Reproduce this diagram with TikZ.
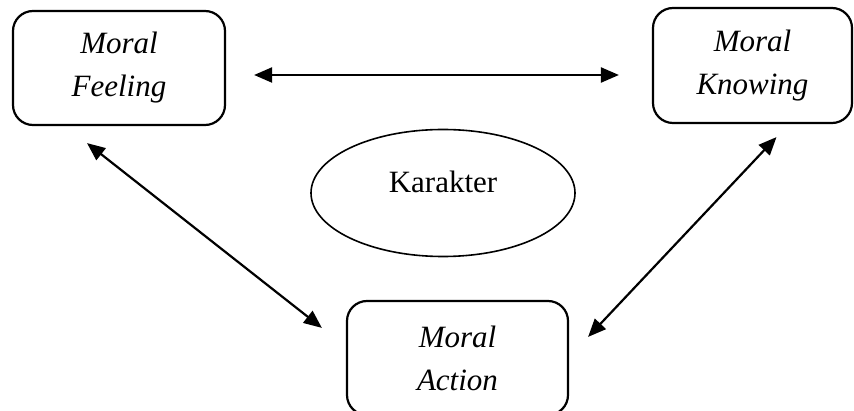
\documentclass[tikz,border=0pt]{standalone}
\usepackage{fontspec}
\setmainfont{Liberation Serif}
\usepackage{tikz}
\usetikzlibrary{shapes.geometric, arrows.meta}

\begin{document}
\begin{tikzpicture}[x = 1pt, y = 1pt,
        moral_box/.style = {draw = black, line width = 2.2pt, rounded corners = 20pt,
            align = center, font = \fontsize{31}{43}\selectfont\itshape},
        link/.style = {line width = 2.2pt, {Triangle[length=18pt, width=15pt]}-{Triangle[length=18pt, width=15pt]}}]
        \useasboundingbox (0,0) rectangle (854,410);
        \node (moral_feeling)[moral_box, minimum width = 212pt, minimum height = 114pt]
        at (119,342) {Moral\\Feeling};
        \node (moral_knowing)[moral_box, minimum width = 199pt, minimum height = 115pt]
        at (752.5,344.5) {Moral\\Knowing};
        \node (moral_action)[moral_box, minimum width = 221pt, minimum height = 114pt]
        at (457.5,52) {Moral\\Action};
        \node (karakter)[ellipse, draw = black, line width = 1.6pt, inner sep = 0pt,
            minimum width = 264pt, minimum height = 127pt, text depth = 22pt,
            font = \fontsize{31}{38}\selectfont] at (443,217) {Karakter};
        \path([xshift = 28pt, yshift = -7pt]moral_feeling.east) edge[link]
            ([xshift = -33pt, yshift = -7pt]moral_feeling.east -| moral_knowing.west);
        \path([xshift = -32pt, yshift = -17pt]moral_feeling.south) edge[link]
            ([xshift = -24pt, yshift = -28pt]moral_action.north west);
        \path([xshift = 24pt, yshift = -13pt]moral_knowing.south) edge[link]
            ([xshift = 19pt, yshift = -37pt]moral_action.north east);
    \end{tikzpicture}
\end{document}
